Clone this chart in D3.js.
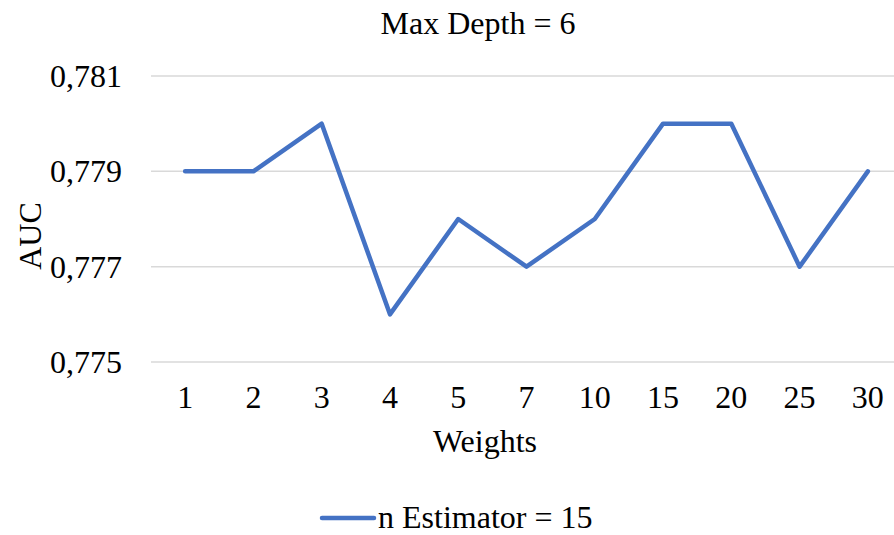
<!DOCTYPE html>
<html>
<head>
<meta charset="utf-8">
<script src="https://cdn.jsdelivr.net/npm/d3@7"></script>
<style>
  html, body { margin: 0; padding: 0; background: #fff; }
  svg { display: block; }
</style>
</head>
<body>
<svg id="chart" width="894" height="535"></svg>
<script>
// AUC per class weight, max depth 6, 15 estimators
const weights = ["1", "2", "3", "4", "5", "7", "10", "15", "20", "25", "30"];
const auc = [0.779, 0.779, 0.780, 0.776, 0.778, 0.777, 0.778, 0.780, 0.780, 0.777, 0.779];
const yTicks = [0.775, 0.777, 0.779, 0.781];
const seriesName = "n Estimator = 15";

const serif = "'Liberation Serif', Tinos, 'Times New Roman', Times, serif";
const svg = d3.select("#chart")
  .style("font-family", serif);
const fontSize = 32;

const x = d3.scaleBand().domain(weights).range([151, 902]);
const y = d3.scaleLinear().domain([0.775, 0.781]).range([362, 76]);

const fmt = v => d3.format(".3f")(v).replace(".", ",");

// horizontal gridlines
svg.append("g")
  .selectAll("line")
  .data(yTicks)
  .join("line")
  .attr("x1", 151).attr("x2", 894)
  .attr("y1", d => y(d)).attr("y2", d => y(d))
  .attr("stroke", "#d9d9d9").attr("stroke-width", 1.5);

// y axis labels
const yAxis = svg.append("g")
  .attr("transform", "translate(151,0)")
  .call(d3.axisLeft(y).tickValues(yTicks).tickFormat(fmt).tickSize(0).tickPadding(29));
yAxis.attr("font-family", serif).attr("font-size", fontSize);
yAxis.select(".domain").remove();
yAxis.selectAll("text").attr("fill", "#000").attr("dy", "0.33em");

// x axis labels
const xAxis = svg.append("g")
  .attr("transform", "translate(0,362)")
  .call(d3.axisBottom(x).tickSize(0).tickPadding(23));
xAxis.attr("font-family", serif).attr("font-size", fontSize);
xAxis.select(".domain").remove();
xAxis.selectAll("text").attr("fill", "#000").attr("dy", "0.71em");

// data line
const line = d3.line()
  .x((d, i) => x(weights[i]) + x.bandwidth() / 2)
  .y(d => y(d));

svg.append("path")
  .datum(auc)
  .attr("d", line)
  .attr("fill", "none")
  .attr("stroke", "#4472c4")
  .attr("stroke-width", 4.5)
  .attr("stroke-linejoin", "round")
  .attr("stroke-linecap", "round");

const label = (sel) => sel.attr("font-family", serif).attr("font-size", fontSize).attr("fill", "#000");

// title
svg.append("text")
  .attr("x", 478).attr("y", 34)
  .attr("text-anchor", "middle")
  .call(label)
  .text("Max Depth = 6");

// axis titles
svg.append("text")
  .attr("x", 485).attr("y", 452)
  .attr("text-anchor", "middle")
  .call(label)
  .text("Weights");

svg.append("text")
  .attr("transform", "translate(41,236) rotate(-90)")
  .attr("text-anchor", "middle")
  .call(label)
  .text("AUC");

// legend
const legend = svg.append("g");
legend.append("line")
  .attr("x1", 322).attr("x2", 374)
  .attr("y1", 518).attr("y2", 518)
  .attr("stroke", "#4472c4").attr("stroke-width", 4.5)
  .attr("stroke-linecap", "round");
legend.append("text")
  .attr("x", 378).attr("y", 528)
  .call(label)
  .text(seriesName);
</script>
</body>
</html>
